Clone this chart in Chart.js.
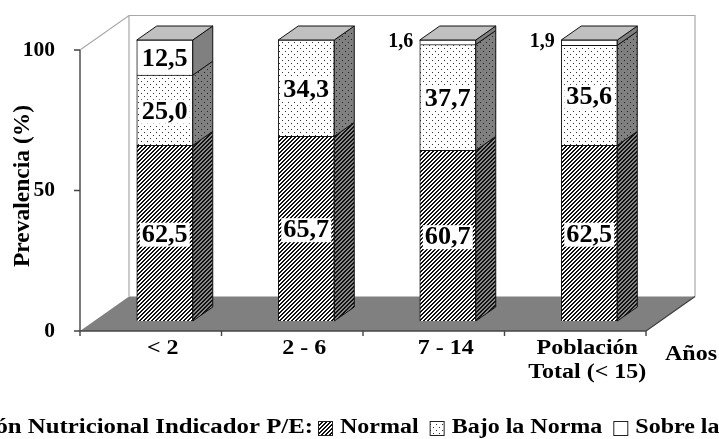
<!DOCTYPE html>
<html><head><meta charset="utf-8">
<style>html,body{margin:0;padding:0;background:#fff;overflow:hidden}#w{position:relative;width:719px;height:439px}canvas{display:block;filter:blur(0.45px)}</style>
<script src="https://cdn.jsdelivr.net/npm/chart.js@4"></script>
</head><body><div id="w"><canvas id="c" width="719" height="439"></canvas></div>
<script>
const categories = [['< 2'], ['2 - 6'], ['7 - 14'], ['Población', 'Total (< 15)']];
const normal = [62.5, 65.7, 60.7, 62.5];
const bajo = [25.0, 34.3, 37.7, 35.6];
const sobre = [12.5, 0, 1.6, 1.9];
const yTicks = [0, 50, 100];
const seriesNames = ['Normal', 'Bajo la Norma', 'Sobre la Norma'];
const legendTitle = 'Situación Nutricional Indicador P/E:';
const yTitle = 'Prevalencia (%)';
const xCaption = 'Años';
const FONT = '"Liberation Serif"';
const fmt = v => v.toFixed(1).replace('.', ',');

function tile(size, bg, draw) {
  const t = document.createElement('canvas'); t.width = t.height = size;
  const g = t.getContext('2d'); g.fillStyle = bg; g.fillRect(0, 0, size, size); draw(g);
  return g.canvas;
}
const ctx0 = document.getElementById('c').getContext('2d');
function hatch(bg, fg) {
  return ctx0.createPattern(tile(4, bg, g => {
    g.fillStyle = fg;
    for (let i = 0; i < 4; i++) { g.fillRect(i, 3 - i, 1, 1); g.fillRect((i + 1) % 4, 3 - i, 1, 1); }
  }), 'repeat');
}
function dots(bg, fg) {
  return ctx0.createPattern(tile(6, bg, g => { g.fillStyle = fg; g.fillRect(1, 1, 1, 1); g.fillRect(4, 4, 1, 1); }), 'repeat');
}
const fronts = [hatch('#fff', '#111'), dots('#fff', '#333'), '#ffffff'];
const sides = [hatch('#888', '#111'), dots('#808080', '#222'), '#808080'];

const BAR_DX = 14, BAR_DY = -10, BAR_DEPTH_X = 20, BAR_DEPTH_Y = -14;
const WALL_DX = 49, WALL_DY = -34.5, STRETCH = 1.2;

function wideText(ctx, s, x, y, size, align, k) {
  ctx.save(); ctx.font = 'bold ' + size + 'px ' + FONT; ctx.fillStyle = '#000';
  ctx.textBaseline = 'middle'; ctx.textAlign = align || 'center';
  ctx.translate(x, y); ctx.scale(k || STRETCH, 1); ctx.fillText(s, 0, 0); ctx.restore();
}

const scene = {
  id: 'scene',
  beforeDatasetsDraw(chart) {
    const { ctx, chartArea: a, scales: { y } } = chart;
    const L = a.left, R = a.right, T = y.getPixelForValue(100), B = y.getPixelForValue(0);
    ctx.save();
    ctx.fillStyle = '#808080';
    ctx.beginPath(); ctx.moveTo(L, B); ctx.lineTo(R, B); ctx.lineTo(R + WALL_DX, B + WALL_DY); ctx.lineTo(L + WALL_DX, B + WALL_DY); ctx.closePath(); ctx.fill();
    ctx.strokeStyle = '#a8a8a8'; ctx.lineWidth = 1.2;
    ctx.beginPath();
    ctx.moveTo(L, T); ctx.lineTo(L + WALL_DX, T + WALL_DY); ctx.lineTo(R + WALL_DX, T + WALL_DY); ctx.lineTo(R + WALL_DX, B + WALL_DY);
    ctx.moveTo(L + WALL_DX, T + WALL_DY); ctx.lineTo(L + WALL_DX, B + WALL_DY);
    ctx.stroke();
    ctx.strokeStyle = '#404040'; ctx.lineWidth = 1.3;
    ctx.beginPath(); ctx.moveTo(R, B); ctx.lineTo(R + WALL_DX, B + WALL_DY); ctx.stroke();
    ctx.restore();
    const metas = chart.data.datasets.map((d, i) => chart.getDatasetMeta(i));
    ctx.save(); ctx.translate(BAR_DX, BAR_DY);
    metas.forEach((m, di) => m.data.forEach(el => {
      const h = Math.abs(el.base - el.y); if (h < 0.01) return;
      const r = el.x + el.width / 2;
      ctx.beginPath(); ctx.moveTo(r, el.base); ctx.lineTo(r + BAR_DEPTH_X, el.base + BAR_DEPTH_Y); ctx.lineTo(r + BAR_DEPTH_X, el.y + BAR_DEPTH_Y); ctx.lineTo(r, el.y); ctx.closePath();
      ctx.fillStyle = sides[di]; ctx.fill();
      ctx.strokeStyle = '#111'; ctx.lineWidth = 1; ctx.stroke();
    }));
    metas[0].data.forEach((_, k) => {
      const el = metas.map(m => m.data[k]).reduce((p, c) => c.y < p.y ? c : p);
      const l = el.x - el.width / 2, r = el.x + el.width / 2;
      ctx.beginPath(); ctx.moveTo(l, el.y); ctx.lineTo(r, el.y); ctx.lineTo(r + BAR_DEPTH_X, el.y + BAR_DEPTH_Y); ctx.lineTo(l + BAR_DEPTH_X, el.y + BAR_DEPTH_Y); ctx.closePath();
      ctx.fillStyle = '#c0c0c0'; ctx.fill(); ctx.strokeStyle = '#111'; ctx.lineWidth = 1; ctx.stroke();
    });
    ctx.restore();
    ctx.save(); ctx.translate(BAR_DX, BAR_DY);
  },
  afterDatasetsDraw(chart) {
    const { ctx, chartArea: a, scales: { x, y } } = chart;
    const metas = chart.data.datasets.map((d, i) => chart.getDatasetMeta(i));
    ctx.font = 'bold 25px ' + FONT; ctx.textAlign = 'center'; ctx.textBaseline = 'middle';
    metas.forEach((m, di) => m.data.forEach((el, k) => {
      const v = chart.data.datasets[di].data[k]; if (!v) return;
      const cy = (el.y + el.base) / 2;
      if (v < 5) {
        ctx.save(); ctx.font = 'bold 20px ' + FONT; ctx.fillStyle = '#000';
        ctx.fillText(fmt(v), el.x - el.width / 2 - 19, el.y + 2); ctx.restore();
        return;
      }
      const s = fmt(v), w = ctx.measureText(s).width * 1.05;
      if (di !== 2) { ctx.fillStyle = '#fff'; ctx.fillRect(el.x - w / 2 - 2, cy - 10.5, w + 4, 24); }
      wideText(ctx, s, el.x, cy + 2, 25, 'center', 1.05);
    }));
    ctx.restore();
    const T = y.getPixelForValue(100), B = y.getPixelForValue(0);
    ctx.save(); ctx.strokeStyle = '#444'; ctx.lineWidth = 1.4; ctx.beginPath();
    ctx.moveTo(a.left, T); ctx.lineTo(a.left, B + 5); ctx.moveTo(a.left - 6, B); ctx.lineTo(a.right, B);
    yTicks.forEach(t => { const p = y.getPixelForValue(t); ctx.moveTo(a.left - 6, p); ctx.lineTo(a.left, p); });
    for (let i = 0; i <= categories.length; i++) { const p = a.left + (a.right - a.left) * i / categories.length; ctx.moveTo(p, B); ctx.lineTo(p, B + 5); }
    ctx.stroke(); ctx.restore();
    categories.forEach((lines, i) => lines.forEach((s, j) => {
      wideText(ctx, s, x.getPixelForValue(i) + 12, B + 18 + j * 24, 20, 'center');
    }));
    wideText(ctx, xCaption, a.right + 19, B + 24, 20, 'left');
    ctx.save(); ctx.translate(23, 186); ctx.rotate(-Math.PI / 2);
    ctx.font = 'bold 23.5px ' + FONT; ctx.fillStyle = '#000'; ctx.textAlign = 'center'; ctx.textBaseline = 'middle';
    ctx.fillText(yTitle, 0, 0); ctx.restore();
    const ly = 428;
    wideText(ctx, legendTitle, 313, ly, 20, 'right', 1.24);
    let px = 318;
    ctx.font = 'bold 20px ' + FONT;
    seriesNames.forEach((n, i) => {
      ctx.save();
      ctx.fillStyle = fronts[i]; ctx.fillRect(px, ly - 7, 14, 14);
      ctx.strokeStyle = '#222'; ctx.lineWidth = 1; ctx.strokeRect(px + .5, ly - 6.5, 14, 14);
      ctx.restore();
      px += 22;
      wideText(ctx, n, px, ly, 20, 'left');
      ctx.font = 'bold 20px ' + FONT;
      px += ctx.measureText(n).width * STRETCH + 11;
    });
  }
};

new Chart(document.getElementById('c'), {
  type: 'bar',
  data: {
    labels: categories,
    datasets: [
      { label: seriesNames[0], data: normal, backgroundColor: fronts[0], borderColor: '#111', borderWidth: 1 },
      { label: seriesNames[1], data: bajo, backgroundColor: fronts[1], borderColor: '#111', borderWidth: 1 },
      { label: seriesNames[2], data: sobre, backgroundColor: fronts[2], borderColor: '#111', borderWidth: 1 }
    ]
  },
  options: {
    responsive: false, animation: false,
    layout: { padding: { left: 0, right: 73, top: 50, bottom: 100 } },
    datasets: { bar: { barThickness: 56 } },
    plugins: { legend: { display: false }, tooltip: { enabled: false } },
    scales: {
      x: { stacked: true, grid: { display: false }, border: { display: false }, ticks: { display: false } },
      y: { stacked: true, min: 0, max: 100, afterFit(s) { s.width = 80; }, afterBuildTicks(s) { s.ticks = yTicks.map(v => ({ value: v })); },
        grid: { display: false }, border: { display: false },
        ticks: { color: '#000', padding: 17, font: { family: FONT, weight: 'bold', size: 21.5 } } }
    }
  },
  plugins: [scene]
});
</script></body></html>
